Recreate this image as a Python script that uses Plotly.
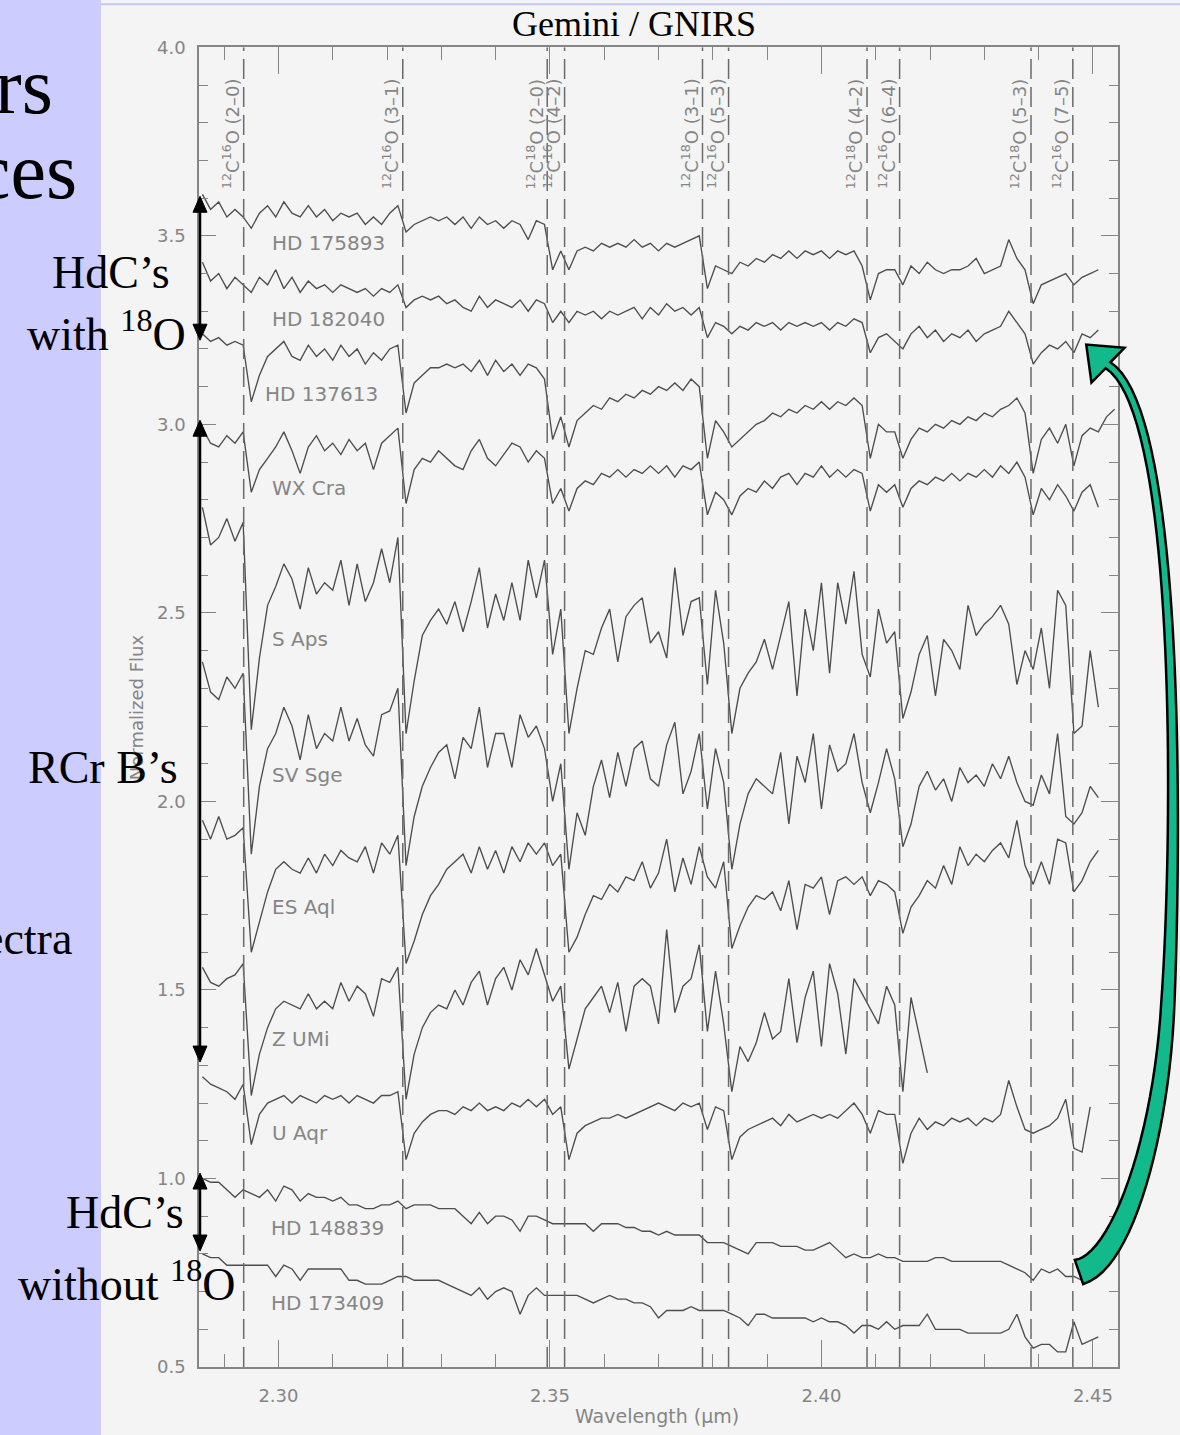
import math
import plotly.graph_objects as go

# ---------------- data ----------------
WAVE = [
    2.2860, 2.2875, 2.2890, 2.2905, 2.2920, 2.2935, 2.2950, 2.2965, 2.2980, 2.2995,
    2.3010, 2.3025, 2.3040, 2.3055, 2.3070, 2.3085, 2.3100, 2.3115, 2.3130, 2.3145,
    2.3160, 2.3175, 2.3190, 2.3205, 2.3220, 2.3235, 2.3250, 2.3265, 2.3280, 2.3295,
    2.3310, 2.3325, 2.3340, 2.3355, 2.3370, 2.3385, 2.3400, 2.3415, 2.3430, 2.3445,
    2.3460, 2.3475, 2.3490, 2.3505, 2.3520, 2.3535, 2.3550, 2.3565, 2.3580, 2.3595,
    2.3610, 2.3625, 2.3640, 2.3655, 2.3670, 2.3685, 2.3700, 2.3715, 2.3730, 2.3745,
    2.3760, 2.3775, 2.3790, 2.3805, 2.3820, 2.3835, 2.3850, 2.3865, 2.3880, 2.3895,
    2.3910, 2.3925, 2.3940, 2.3955, 2.3970, 2.3985, 2.4000, 2.4015, 2.4030, 2.4045,
    2.4060, 2.4075, 2.4090, 2.4105, 2.4120, 2.4135, 2.4150, 2.4165, 2.4180, 2.4195,
    2.4210, 2.4225, 2.4240, 2.4255, 2.4270, 2.4285, 2.4300, 2.4315, 2.4330, 2.4345,
    2.4360, 2.4375, 2.4390, 2.4405, 2.4420, 2.4435, 2.4450, 2.4465, 2.4480, 2.4495,
    2.4510, 2.4525, 2.4540,
]

HD175893 = [
    3.61, 3.57, 3.59, 3.55, 3.57, 3.55, 3.52, 3.56, 3.58, 3.55,
    3.59, 3.56, 3.55, 3.58, 3.55, 3.57, 3.54, 3.56, 3.55, 3.56,
    3.53, 3.55, 3.53, 3.56, 3.58, 3.51, 3.53, 3.54, 3.55, 3.54,
    3.55, 3.53, 3.55, 3.52, 3.55, 3.53, 3.54, 3.52, 3.54, 3.53,
    3.49, 3.54, 3.53, 3.41, 3.46, 3.41, 3.46, 3.47, 3.46, 3.48,
    3.47, 3.48, 3.47, 3.49, 3.47, 3.48, 3.46, 3.48, 3.47, 3.48,
    3.49, 3.50, 3.36, 3.42, 3.41, 3.40, 3.43, 3.42, 3.44, 3.43,
    3.45, 3.44, 3.46, 3.44, 3.46, 3.45, 3.46, 3.44, 3.46, 3.45,
    3.46, 3.42, 3.33, 3.40, 3.41, 3.41, 3.37, 3.42, 3.40, 3.43,
    3.41, 3.40, 3.41, 3.41, 3.42, 3.44, 3.40, 3.41, 3.42, 3.49,
    3.44, 3.41, 3.32, 3.37, 3.38, 3.39, 3.40, 3.37, 3.39, 3.40,
    3.41, None, None,
]

HD182040 = [
    3.43, 3.38, 3.40, 3.36, 3.39, 3.37, 3.35, 3.39, 3.37, 3.41,
    3.36, 3.39, 3.35, 3.38, 3.36, 3.37, 3.35, 3.37, 3.36, 3.35,
    3.36, 3.34, 3.36, 3.35, 3.37, 3.31, 3.33, 3.34, 3.33, 3.34,
    3.32, 3.33, 3.31, 3.30, 3.34, 3.31, 3.33, 3.32, 3.31, 3.33,
    3.30, 3.33, 3.32, 3.27, 3.30, 3.27, 3.30, 3.29, 3.30, 3.28,
    3.30, 3.29, 3.30, 3.31, 3.28, 3.31, 3.29, 3.32, 3.30, 3.31,
    3.29, 3.31, 3.23, 3.27, 3.26, 3.24, 3.26, 3.25, 3.27, 3.26,
    3.27, 3.25, 3.27, 3.26, 3.27, 3.26, 3.27, 3.25, 3.27, 3.26,
    3.28, 3.27, 3.19, 3.23, 3.24, 3.22, 3.20, 3.24, 3.26, 3.23,
    3.25, 3.22, 3.24, 3.23, 3.25, 3.22, 3.24, 3.25, 3.26, 3.30,
    3.27, 3.24, 3.16, 3.19, 3.21, 3.20, 3.22, 3.19, 3.24, 3.23,
    3.25, None, None,
]

HD137613 = [
    3.24, 3.22, 3.23, 3.21, 3.22, 3.21, 3.06, 3.13, 3.18, 3.20,
    3.22, 3.18, 3.17, 3.21, 3.18, 3.20, 3.17, 3.21, 3.18, 3.20,
    3.16, 3.19, 3.17, 3.20, 3.21, 3.03, 3.11, 3.13, 3.15, 3.15,
    3.16, 3.15, 3.16, 3.14, 3.17, 3.13, 3.17, 3.14, 3.16, 3.13,
    3.16, 3.15, 3.12, 2.96, 3.02, 2.94, 3.01, 3.03, 3.05, 3.04,
    3.07, 3.06, 3.08, 3.07, 3.09, 3.08, 3.10, 3.09, 3.11, 3.09,
    3.12, 3.10, 2.91, 3.01, 2.98, 2.94, 2.96, 2.98, 3.00, 3.01,
    3.03, 3.02, 3.04, 3.03, 3.05, 3.04, 3.06, 3.04, 3.06, 3.05,
    3.07, 3.05, 2.91, 3.00, 2.98, 2.98, 2.91, 2.96, 2.99, 2.98,
    3.00, 2.99, 3.01, 3.00, 3.02, 3.01, 3.03, 3.02, 3.04, 3.05,
    3.07, 3.03, 2.87, 2.96, 2.99, 2.95, 3.00, 2.89, 2.97, 2.99,
    2.98, 3.02, 3.04,
]

WX_CRA = [
    2.99, 2.95, 2.94, 2.97, 2.95, 2.98, 2.82, 2.88, 2.91, 2.94,
    2.98, 2.93, 2.87, 2.94, 2.97, 2.93, 2.95, 2.92, 2.96, 2.93,
    2.95, 2.88, 2.95, 2.97, 2.99, 2.79, 2.88, 2.91, 2.90, 2.93,
    2.91, 2.89, 2.88, 2.93, 2.96, 2.91, 2.89, 2.92, 2.95, 2.94,
    2.90, 2.93, 2.91, 2.79, 2.83, 2.77, 2.83, 2.85, 2.84, 2.87,
    2.86, 2.88, 2.86, 2.88, 2.87, 2.89, 2.87, 2.89, 2.86, 2.89,
    2.88, 2.90, 2.76, 2.82, 2.80, 2.76, 2.81, 2.83, 2.82, 2.85,
    2.83, 2.86, 2.87, 2.84, 2.87, 2.86, 2.89, 2.86, 2.88, 2.86,
    2.88, 2.87, 2.77, 2.84, 2.82, 2.84, 2.78, 2.83, 2.85, 2.84,
    2.86, 2.85, 2.87, 2.85, 2.87, 2.86, 2.88, 2.86, 2.89, 2.87,
    2.90, 2.86, 2.76, 2.83, 2.80, 2.84, 2.81, 2.77, 2.82, 2.84,
    2.78, None, None,
]

S_APS = [
    2.78, 2.68, 2.70, 2.75, 2.69, 2.74, 2.19, 2.38, 2.52, 2.57,
    2.63, 2.59, 2.51, 2.62, 2.55, 2.58, 2.56, 2.64, 2.52, 2.63,
    2.53, 2.58, 2.67, 2.58, 2.70, 2.18, 2.32, 2.44, 2.48, 2.51,
    2.47, 2.53, 2.45, 2.53, 2.62, 2.46, 2.55, 2.48, 2.58, 2.48,
    2.64, 2.54, 2.64, 2.39, 2.51, 2.18, 2.30, 2.40, 2.39, 2.46,
    2.51, 2.37, 2.49, 2.52, 2.54, 2.42, 2.45, 2.38, 2.62, 2.44,
    2.53, 2.54, 2.31, 2.56, 2.42, 2.18, 2.30, 2.34, 2.37, 2.43,
    2.35, 2.44, 2.53, 2.28, 2.51, 2.40, 2.58, 2.34, 2.58, 2.47,
    2.61, 2.39, 2.33, 2.51, 2.42, 2.45, 2.22, 2.29, 2.39, 2.44,
    2.28, 2.43, 2.40, 2.35, 2.52, 2.44, 2.47, 2.49, 2.52, 2.47,
    2.31, 2.40, 2.35, 2.46, 2.30, 2.56, 2.52, 2.18, 2.20, 2.40,
    2.25, None, None,
]

SV_SGE = [
    2.37, 2.29, 2.27, 2.33, 2.30, 2.34, 1.86, 2.04, 2.14, 2.18,
    2.25, 2.20, 2.11, 2.23, 2.14, 2.18, 2.16, 2.25, 2.16, 2.22,
    2.15, 2.12, 2.23, 2.24, 2.30, 1.83, 1.96, 2.04, 2.09, 2.13,
    2.15, 2.06, 2.17, 2.14, 2.25, 2.09, 2.18, 2.18, 2.09, 2.23,
    2.17, 2.20, 2.14, 2.00, 2.10, 1.82, 1.97, 1.91, 2.04, 2.11,
    2.01, 2.13, 2.04, 2.14, 2.16, 2.06, 2.04, 2.15, 2.21, 2.02,
    2.08, 2.18, 1.98, 2.14, 2.05, 1.82, 1.94, 2.02, 2.06, 2.04,
    2.02, 2.13, 1.94, 2.12, 2.05, 2.18, 1.98, 2.15, 2.08, 2.10,
    2.18, 2.05, 1.97, 2.05, 2.14, 2.06, 1.88, 1.94, 2.04, 2.08,
    2.03, 2.06, 2.00, 2.09, 2.05, 2.07, 2.04, 2.10, 2.06, 2.12,
    2.05, 2.00, 1.99, 2.07, 2.02, 2.18, 1.96, 1.94, 1.97, 2.04,
    2.01, None, None,
]

ES_AQL = [
    1.95, 1.90, 1.96, 1.90, 1.91, 1.93, 1.60, 1.68, 1.76, 1.82,
    1.84, 1.82, 1.81, 1.85, 1.81, 1.86, 1.83, 1.87, 1.85, 1.84,
    1.88, 1.81, 1.89, 1.86, 1.91, 1.57, 1.63, 1.70, 1.75, 1.78,
    1.82, 1.84, 1.86, 1.81, 1.88, 1.82, 1.87, 1.81, 1.88, 1.84,
    1.89, 1.86, 1.89, 1.83, 1.86, 1.60, 1.64, 1.70, 1.75, 1.74,
    1.78, 1.76, 1.80, 1.79, 1.84, 1.77, 1.81, 1.90, 1.76, 1.85,
    1.78, 1.88, 1.80, 1.77, 1.84, 1.61, 1.67, 1.72, 1.75, 1.74,
    1.76, 1.71, 1.79, 1.66, 1.78, 1.77, 1.80, 1.70, 1.79, 1.80,
    1.78, 1.80, 1.75, 1.79, 1.78, 1.76, 1.65, 1.72, 1.75, 1.79,
    1.77, 1.83, 1.78, 1.88, 1.83, 1.86, 1.84, 1.87, 1.89, 1.85,
    1.95, 1.83, 1.78, 1.84, 1.78, 1.90, 1.89, 1.76, 1.79, 1.84,
    1.87, None, None,
]

Z_UMI = [
    1.56, 1.52, 1.51, 1.53, 1.54, 1.57, 1.22, 1.33, 1.40, 1.45,
    1.47, 1.46, 1.45, 1.49, 1.45, 1.47, 1.45, 1.52, 1.47, 1.51,
    1.49, 1.43, 1.53, 1.52, 1.56, 1.21, 1.33, 1.40, 1.44, 1.46,
    1.45, 1.50, 1.46, 1.52, 1.55, 1.46, 1.53, 1.56, 1.50, 1.58,
    1.54, 1.61, 1.54, 1.47, 1.51, 1.29, 1.37, 1.45, 1.48, 1.51,
    1.44, 1.52, 1.39, 1.51, 1.53, 1.51, 1.41, 1.66, 1.44, 1.51,
    1.53, 1.62, 1.39, 1.55, 1.41, 1.23, 1.35, 1.31, 1.36, 1.44,
    1.37, 1.39, 1.53, 1.36, 1.48, 1.55, 1.35, 1.57, 1.49, 1.33,
    1.53, 1.49, 1.45, 1.41, 1.51, 1.46, 1.23, 1.48, 1.38, 1.28,
    None, None, None, None, None, None, None, None, None, None,
    None, None, None, None, None, None, None, None, None, None,
    None, None, None,
]

U_AQR = [
    1.27, 1.25, 1.24, 1.23, 1.21, 1.25, 1.09, 1.17, 1.20, 1.21,
    1.22, 1.20, 1.22, 1.21, 1.20, 1.22, 1.21, 1.22, 1.20, 1.22,
    1.21, 1.20, 1.22, 1.22, 1.23, 1.05, 1.12, 1.15, 1.17, 1.18,
    1.18, 1.17, 1.19, 1.18, 1.20, 1.18, 1.19, 1.18, 1.20, 1.19,
    1.21, 1.19, 1.21, 1.17, 1.19, 1.05, 1.12, 1.14, 1.15, 1.16,
    1.16, 1.17, 1.16, 1.17, 1.18, 1.19, 1.20, 1.19, 1.18, 1.20,
    1.19, 1.20, 1.13, 1.19, 1.18, 1.05, 1.11, 1.13, 1.14, 1.15,
    1.16, 1.14, 1.17, 1.15, 1.16, 1.17, 1.16, 1.17, 1.16, 1.18,
    1.20, 1.17, 1.12, 1.18, 1.17, 1.17, 1.04, 1.12, 1.16, 1.13,
    1.15, 1.14, 1.16, 1.15, 1.16, 1.14, 1.16, 1.15, 1.17, 1.26,
    1.19, 1.13, 1.12, 1.13, 1.14, 1.16, 1.21, 1.08, 1.07, 1.19,
    None, None, None,
]

HD148839 = [
    1.00, 0.99, 0.99, 0.97, 0.95, 0.97, 0.96, 0.95, 0.97, 0.94,
    0.98, 0.97, 0.94, 0.96, 0.95, 0.95, 0.94, 0.95, 0.93, 0.93,
    0.92, 0.92, 0.93, 0.93, 0.94, 0.92, 0.93, 0.93, 0.93, 0.92,
    0.92, 0.92, 0.90, 0.88, 0.91, 0.88, 0.90, 0.90, 0.89, 0.86,
    0.90, 0.90, 0.89, 0.88, 0.88, 0.88, 0.88, 0.88, 0.86, 0.88,
    0.88, 0.88, 0.87, 0.87, 0.86, 0.86, 0.85, 0.86, 0.85, 0.85,
    0.85, 0.85, 0.83, 0.83, 0.83, 0.82, 0.81, 0.80, 0.83, 0.83,
    0.83, 0.82, 0.82, 0.82, 0.81, 0.81, 0.82, 0.83, 0.81, 0.79,
    0.80, 0.79, 0.79, 0.80, 0.79, 0.79, 0.78, 0.78, 0.78, 0.78,
    0.79, 0.79, 0.78, 0.78, 0.78, 0.78, 0.78, 0.78, 0.78, 0.77,
    0.76, 0.75, 0.73, 0.76, 0.75, 0.76, 0.74, 0.74, 0.73, 0.74,
    None, None, None,
]

HD173409 = [
    0.80, 0.79, 0.79, 0.77, 0.77, 0.77, 0.77, 0.77, 0.77, 0.74,
    0.77, 0.76, 0.73, 0.76, 0.76, 0.76, 0.76, 0.76, 0.73, 0.73,
    0.72, 0.72, 0.72, 0.73, 0.74, 0.74, 0.73, 0.73, 0.73, 0.73,
    0.72, 0.71, 0.70, 0.69, 0.71, 0.68, 0.70, 0.71, 0.70, 0.64,
    0.69, 0.71, 0.69, 0.69, 0.69, 0.69, 0.69, 0.68, 0.67, 0.68,
    0.69, 0.68, 0.68, 0.67, 0.67, 0.66, 0.63, 0.65, 0.65, 0.65,
    0.66, 0.65, 0.65, 0.65, 0.65, 0.64, 0.63, 0.61, 0.64, 0.64,
    0.63, 0.63, 0.63, 0.63, 0.63, 0.62, 0.63, 0.62, 0.62, 0.61,
    0.59, 0.61, 0.61, 0.60, 0.62, 0.60, 0.61, 0.61, 0.61, 0.64,
    0.60, 0.60, 0.60, 0.60, 0.59, 0.59, 0.59, 0.59, 0.59, 0.60,
    0.64, 0.58, 0.55, 0.56, 0.56, 0.54, 0.54, 0.62, 0.56, 0.57,
    0.58, None, None,
]

STAR_NAMES = ["HD 175893", "HD 182040", "HD 137613", "WX Cra", "S Aps", "SV Sge",
              "ES Aql", "Z UMi", "U Aqr", "HD 148839", "HD 173409"]
SPECTRA = [HD175893, HD182040, HD137613, WX_CRA, S_APS, SV_SGE,
           ES_AQL, Z_UMI, U_AQR, HD148839, HD173409]
LABEL_WAVE = [2.2985, 2.2985, 2.2972, 2.2985, 2.2985, 2.2985,
              2.2985, 2.2985, 2.2985, 2.2982, 2.2982]
LABEL_FLUX = [3.48, 3.28, 3.08, 2.83, 2.43, 2.07, 1.72, 1.37, 1.12, 0.87, 0.67]

BAND_WAVE = [2.2936, 2.3229, 2.3495, 2.3527, 2.3781, 2.3829, 2.4084, 2.4144, 2.4386, 2.4463]
BAND_LABELS = [
    "<sup>12</sup>C<sup>16</sup>O (2–0)", "<sup>12</sup>C<sup>16</sup>O (3–1)",
    "<sup>12</sup>C<sup>18</sup>O (2–0)", "<sup>12</sup>C<sup>16</sup>O (4–2)",
    "<sup>12</sup>C<sup>18</sup>O (3–1)", "<sup>12</sup>C<sup>16</sup>O (5–3)",
    "<sup>12</sup>C<sup>18</sup>O (4–2)", "<sup>12</sup>C<sup>16</sup>O (6–4)",
    "<sup>12</sup>C<sup>18</sup>O (5–3)", "<sup>12</sup>C<sup>16</sup>O (7–5)",
]

X_RANGE = [2.28537, 2.45462]
Y_RANGE = [0.5, 4.0]

# ---------------- page geometry ----------------
W, H = 1180, 1435
FX0, FX1, FY0, FY1 = 199, 1118, 47, 1367   # plot frame (target screen px)
# the photographed page shows the figure's height slightly compressed & offset
Y_OFF, Y_SPAN = 10.7, 1414.3


def fx(px):
    return px / W


def fy(py):
    return 1 - (py - Y_OFF) / Y_SPAN


GRAY = "#858585"
LINE = "#4d4d4d"
SANS = "DejaVu Sans"
SERIF = "Liberation Serif"

fig = go.Figure()
for name, flux in zip(STAR_NAMES, SPECTRA):
    fig.add_trace(go.Scatter(x=WAVE, y=flux, mode="lines", name=name,
                             line=dict(color=LINE, width=1.35),
                             connectgaps=False, hoverinfo="skip", showlegend=False))

shapes = []
annotations = []

# lavender slide panel and top border
shapes.append(dict(type="rect", xref="paper", yref="paper", x0=0, x1=fx(101), y0=-0.02, y1=1.02,
                   fillcolor="#ccccff", line=dict(width=0), layer="below"))
shapes.append(dict(type="line", xref="paper", yref="paper", x0=fx(101), x1=1, y0=fy(4), y1=fy(4),
                   line=dict(color="#c8c8f6", width=2), layer="below"))

# dashed band-head lines
for bw in BAND_WAVE:
    shapes.append(dict(type="line", xref="x", yref="y", x0=bw, x1=bw, y0=Y_RANGE[0], y1=Y_RANGE[1],
                       line=dict(color="#6a6a6a", width=1.5, dash="20px,8px")))

# band labels
for bw, lab in zip(BAND_WAVE, BAND_LABELS):
    annotations.append(dict(x=bw, y=fy(191), xref="x", yref="paper", xshift=-12,
                            text=lab, textangle=-90, showarrow=False,
                            xanchor="center", yanchor="bottom",
                            font=dict(family=SANS, size=18, color=GRAY)))

# star labels
for name, lw, lf in zip(STAR_NAMES, LABEL_WAVE, LABEL_FLUX):
    annotations.append(dict(x=lw, y=lf, xref="x", yref="y", text=name, showarrow=False,
                            xanchor="left", yanchor="middle",
                            font=dict(family=SANS, size=20, color=GRAY)))

# title and axis titles
annotations.append(dict(x=fx(634), y=fy(24), xref="paper", yref="paper", text="Gemini / GNIRS",
                        showarrow=False, xanchor="center", yanchor="middle",
                        font=dict(family=SERIF, size=36, color="black")))
annotations.append(dict(x=fx(657), y=fy(1416), xref="paper", yref="paper", text="Wavelength (μm)",
                        showarrow=False, xanchor="center", yanchor="middle",
                        font=dict(family=SANS, size=19, color=GRAY)))
annotations.append(dict(x=fx(136), y=fy(707), xref="paper", yref="paper", text="Normalized Flux",
                        textangle=-90, showarrow=False, xanchor="center", yanchor="middle",
                        font=dict(family=SANS, size=18, color=GRAY)))

# slide texts (left)
slide_texts = [
    ("rs", 55, 86, 80, "right"),
    ("ces", 79, 171, 80, "right"),
    ("HdC’s", 111, 272, 46, "center"),
    ("with <sup>18</sup>O", 106, 331, 46, "center"),
    ("RCr B’s", 103, 767, 46, "center"),
    ("ectra", 74, 938, 46, "right"),
    ("HdC’s", 125, 1212, 46, "center"),
    ("without <sup>18</sup>O", 126, 1281, 46, "center"),
]
for txt, px, py, size, anc in slide_texts:
    annotations.append(dict(x=fx(px), y=fy(py), xref="paper", yref="paper", text=txt,
                            showarrow=False, xanchor=anc, yanchor="middle",
                            font=dict(family=SERIF, size=size, color="black")))


def poly(points):
    return "M " + " L ".join(f"{fx(x):.5f},{fy(y):.5f}" for x, y in points) + " Z"


# black double arrows
def v_arrow(x, ytop, ybot):
    hl, hw = 16, 7
    shapes.append(dict(type="line", xref="paper", yref="paper", x0=fx(x), x1=fx(x),
                       y0=fy(ytop + hl - 2), y1=fy(ybot - hl + 2), line=dict(color="black", width=2.5)))
    shapes.append(dict(type="path", xref="paper", yref="paper",
                       path=poly([(x, ytop), (x - hw, ytop + hl), (x + hw, ytop + hl)]),
                       fillcolor="black", line=dict(color="black", width=1)))
    shapes.append(dict(type="path", xref="paper", yref="paper",
                       path=poly([(x, ybot), (x - hw, ybot - hl), (x + hw, ybot - hl)]),
                       fillcolor="black", line=dict(color="black", width=1)))


v_arrow(200, 196, 340)
v_arrow(200, 420, 1062)
v_arrow(200, 1173, 1251)


# green curved block arrow
def bez(p0, p1, p2, p3, t):
    a = (1 - t) ** 3
    b = 3 * (1 - t) ** 2 * t
    c = 3 * (1 - t) * t ** 2
    d = t ** 3
    return (a * p0[0] + b * p1[0] + c * p2[0] + d * p3[0],
            a * p0[1] + b * p1[1] + c * p2[1] + d * p3[1])


segA = [(1079, 1272), (1122, 1262), (1162, 1135), (1168, 1000)]
segB = [(1168, 1000), (1176, 860), (1184, 414), (1108, 365)]
cl = [bez(*segA, i / 24) for i in range(25)]
cl += [bez(*segB, i / 40) for i in range(1, 41)]
n = len(cl)
left, right = [], []
for i in range(n):
    a = cl[max(i - 1, 0)]
    b = cl[min(i + 1, n - 1)]
    tx, ty = b[0] - a[0], b[1] - a[1]
    L = math.hypot(tx, ty)
    tx, ty = tx / L, ty / L
    nx, ny = -ty, tx
    s = i / (n - 1)
    w = 3.8 + 9.0 * (1 - s) ** 2.5
    left.append((cl[i][0] + w * nx, cl[i][1] + w * ny))
    right.append((cl[i][0] - w * nx, cl[i][1] - w * ny))
ex, ey = cl[-1]
a = cl[-3]
dx, dy = ex - a[0], ey - a[1]
L = math.hypot(dx, dy)
dx, dy = dx / L, dy / L
nx, ny = -dy, dx
tip = (ex + 30 * dx, ey + 30 * dy)
c1 = (ex + 24 * nx, ey + 24 * ny)
c2 = (ex - 24 * nx, ey - 24 * ny)
outline = left + [c1, tip, c2] + right[::-1]
shapes.append(dict(type="path", xref="paper", yref="paper", path=poly(outline),
                   fillcolor="#12b98a", line=dict(color="black", width=2.5)))

axis_common = dict(showline=True, linecolor=GRAY, linewidth=1.5, mirror="ticks",
                   ticks="inside", tickcolor=GRAY, tickwidth=1.3, showgrid=False,
                   zeroline=False, tickfont=dict(family=SANS, size=18, color=GRAY))

fig.update_layout(
    width=W, height=H, autosize=False,
    margin=dict(l=0, r=0, t=0, b=0),
    paper_bgcolor="#f4f4f4", plot_bgcolor="#f4f4f4",
    showlegend=False,
    xaxis=dict(domain=[fx(FX0), fx(FX1)], range=X_RANGE, tick0=2.30, dtick=0.05,
               tickformat=".2f", ticklen=27, ticklabelstandoff=12,
               minor=dict(ticks="inside", ticklen=13, dtick=0.01, tick0=2.30,
                          tickcolor=GRAY, tickwidth=1.3, showgrid=False),
               **axis_common),
    yaxis=dict(domain=[fy(FY1), fy(FY0)], range=Y_RANGE, tick0=0.5, dtick=0.5,
               tickformat=".1f", ticklen=17, ticklabelstandoff=8,
               minor=dict(ticks="inside", ticklen=9, dtick=0.1, tick0=0.5,
                          tickcolor=GRAY, tickwidth=1.3, showgrid=False),
               **axis_common),
    shapes=shapes,
    annotations=annotations,
)

fig.write_html("out.html")
